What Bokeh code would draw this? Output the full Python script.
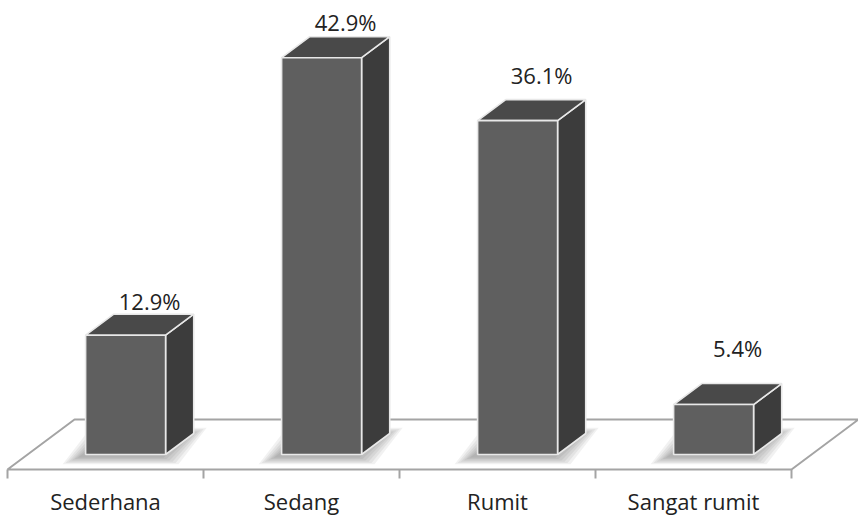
from bokeh.plotting import figure
from bokeh.models import Range1d
from bokeh.core.properties import value
from bokeh.embed import file_html
from bokeh.resources import INLINE

# --- data ---
categories = ["Sederhana", "Sedang", "Rumit", "Sangat rumit"]
percent = [12.9, 42.9, 36.1, 5.4]
value_labels = ["12.9%", "42.9%", "36.1%", "5.4%"]

# --- styling / layout ---
W, H = 858, 517
PX_X = 196.0          # pixels per category slot
PX_Y = 9.25           # pixels per percentage point
X0_PX = 7.0           # left end of the floor's front edge
BASE_PX = 454.0       # screen row of the bars' base

FRONT_FACE = "#5f5f5f"
TOP_FACE = "#494949"
SIDE_FACE = "#3c3c3c"
EDGE = "#e8e8e8"
FLOOR_LINE = "#a4a4a4"
TEXT = "#222222"
FONT = value("Open Sans")

# perspective of the floor (in data units)
floor_front = (BASE_PX - 469.0) / PX_Y
depth_dx = 67.0 / PX_X
depth_dy = 50.0 / PX_Y
bar_t0 = 0.30          # fraction of floor depth where bar fronts stand
bar_t = 0.42           # fraction of floor depth that a bar occupies
bar_w = 0.408          # bar width as a fraction of a slot
label_lift_px = [34, 36, 46, 57]
label_dx_px = 24

p = figure(width=W, height=H, output_backend="svg", toolbar_location=None,
           x_range=Range1d(-X0_PX / PX_X, (W - X0_PX) / PX_X),
           y_range=Range1d(-(H - BASE_PX) / PX_Y, BASE_PX / PX_Y),
           min_border=0, x_axis_type=None, y_axis_type=None)
p.outline_line_color = None
p.grid.visible = False
p.background_fill_color = "white"
p.border_fill_color = "white"

n = len(categories)

# floor
p.patch([0, n, n + depth_dx, depth_dx],
        [floor_front, floor_front, floor_front + depth_dy, floor_front + depth_dy],
        fill_color="white", line_color=FLOOR_LINE, line_width=2)

# category ticks along the front edge
tick_len = 9.0 / PX_Y
p.segment(x0=list(range(n + 1)), y0=[floor_front] * (n + 1),
          x1=list(range(n + 1)), y1=[floor_front - tick_len] * (n + 1),
          line_color=FLOOR_LINE, line_width=2)

bdx = bar_t * depth_dx
bdy = bar_t * depth_dy
shift_x = bar_t0 * depth_dx

fronts_x, fronts_y = [], []
tops_x, tops_y = [], []
sides_x, sides_y = [], []
lab_x, lab_y = [], []
for i, v in enumerate(percent):
    xl = i + (1 - bar_w) / 2 + shift_x
    xr = xl + bar_w
    # soft shadow around the bar's footprint
    for k in range(1, 7):
        ex = k * 3.0 / PX_X
        ey = k * 1.3 / PX_Y
        ox = -5.0 / PX_X
        oy = -2.0 / PX_Y
        p.patch([xl - ex + ox, xr + ex + ox, xr + bdx + ex + ox, xl + bdx - ex + ox],
                [-ey + oy, -ey + oy, bdy + ey + oy, bdy + ey + oy],
                fill_color="black", fill_alpha=0.055, line_color=None)
    fronts_x.append([xl, xr, xr, xl])
    fronts_y.append([0, 0, v, v])
    tops_x.append([xl, xr, xr + bdx, xl + bdx])
    tops_y.append([v, v, v + bdy, v + bdy])
    sides_x.append([xr, xr + bdx, xr + bdx, xr])
    sides_y.append([0, bdy, v + bdy, v])
    lab_x.append((xl + xr) / 2 + label_dx_px / PX_X)
    lab_y.append(v + label_lift_px[i] / PX_Y)

p.patches(sides_x, sides_y, fill_color=SIDE_FACE, line_color=EDGE, line_width=1.6)
p.patches(tops_x, tops_y, fill_color=TOP_FACE, line_color=EDGE, line_width=1.6)
p.patches(fronts_x, fronts_y, fill_color=FRONT_FACE, line_color=EDGE, line_width=1.6)

# value labels
p.text(x=lab_x, y=lab_y, text=value_labels, text_font=FONT, text_font_size="22px",
       text_color=TEXT, text_align="center", text_baseline="middle")

# category labels
cat_y = (BASE_PX - 500.0) / PX_Y
p.text(x=[i + 0.5 for i in range(n)], y=[cat_y] * n, text=categories, text_font=FONT,
       text_font_size="22px", text_color=TEXT, text_align="center", text_baseline="middle")

open("out.html", "w").write(file_html(p, INLINE))
